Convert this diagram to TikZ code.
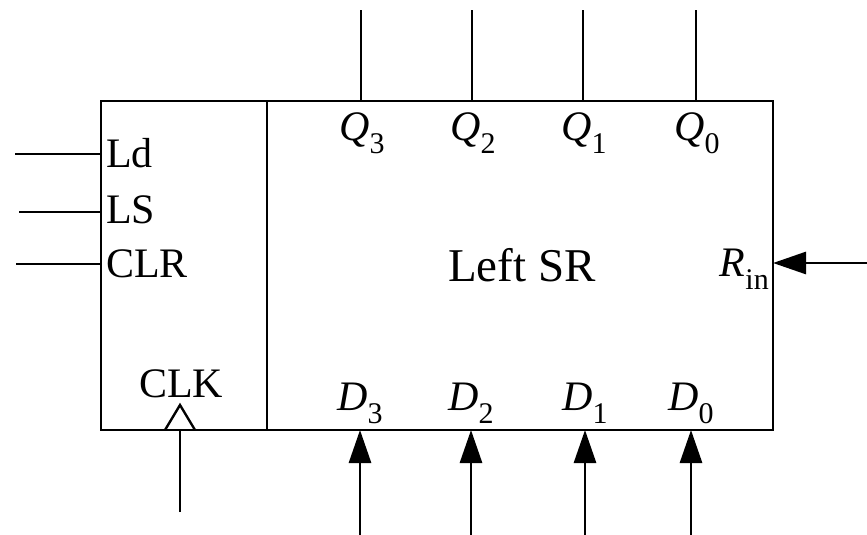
\documentclass[tikz,border=0pt]{standalone}
\usepackage{fontspec}
\setmainfont{Liberation Serif}
\usetikzlibrary{arrows.meta}
\newcommand{\lblsub}[2]{\textit{#1}\raisebox{-0.32em}{\fontsize{30}{30}\selectfont #2}}
\begin{document}
\begin{tikzpicture}[x=1pt,y=-1pt,
  wire/.style={line width=2.8pt},
  inarrow/.style={line width=2.8pt,-{Triangle[length=33pt,width=22pt]}},
  lbl/.style={inner sep=0pt,font=\fontsize{42}{48}\selectfont}]
\useasboundingbox (0,0) rectangle (867,535);
\draw[wire] (101,101) rectangle (773,430);
\draw[wire] (267,101) -- (267,430);
% left inputs
\node[lbl,anchor=base west] (ld) at (106,167) {Ld};
\node[lbl,anchor=base west] (ls) at (106,223) {LS};
\node[lbl,anchor=base west] (clr) at (106,277) {CLR};
\coordinate (ldin) at (15,154);
\coordinate (lsin) at (19,212);
\coordinate (clrin) at (16,264);
\draw[wire] (ldin) -- (101,154);
\draw[wire] (lsin) -- (101,212);
\draw[wire] (clrin) -- (101,264);
% clock
\node[lbl,anchor=base] (clk) at (181,397) {CLK};
\coordinate (clkin) at (180,512);
\draw[line width=2.4pt,line join=miter] (165,430) -- (180,405) -- (195,430);
\draw[wire] (clkin) -- (180,430);
% outputs
\foreach \x/\i in {361/3,472/2,583/1,696/0}{
  \node[lbl,anchor=base] (q\i) at (\x+1,140) {\lblsub{Q}{\i}};
  \coordinate (qo\i) at (\x,10);
  \draw[wire] (\x,101) -- (qo\i);
}
% data inputs
\foreach \x/\i in {360/3,471/2,585/1,691/0}{
  \node[lbl,anchor=base] (d\i) at (\x,410) {\lblsub{D}{\i}};
  \coordinate (di\i) at (\x,535);
  \draw[inarrow] (di\i) -- (\x,430);
}
% title
\node[lbl,anchor=base,font=\fontsize{47}{52}\selectfont] (title) at (522,281) {Left SR};
% Rin
\node[lbl,anchor=base east] (rin) at (769,276) {\lblsub{R}{in}};
\coordinate (rinin) at (867,263);
\draw[inarrow] (rinin) -- (773,263);
\end{tikzpicture}
\end{document}
